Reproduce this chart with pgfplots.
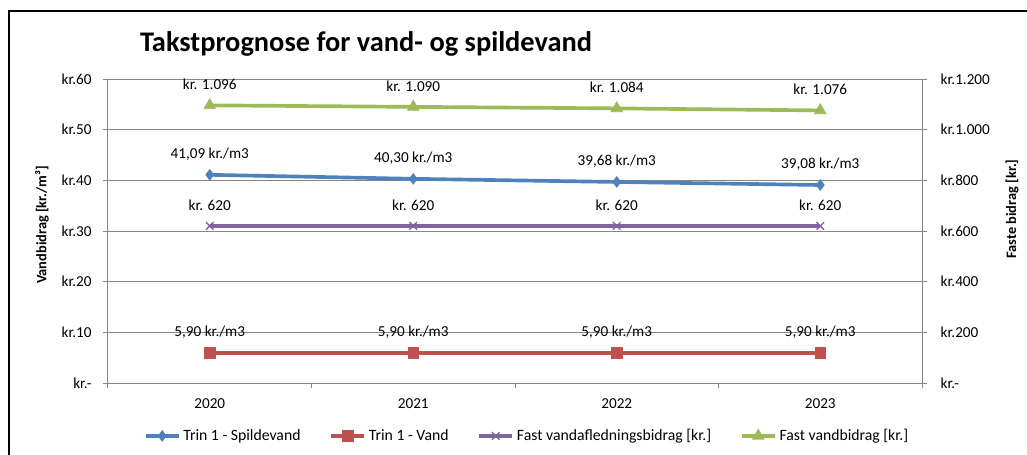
\documentclass[border=0pt]{standalone}
\usepackage{pgfplots}
\pgfplotsset{compat=1.18}
\usepackage{fontspec}
\setmainfont{Carlito}
\definecolor{cblue}{HTML}{4F81BD}
\definecolor{cred}{HTML}{C0504D}
\definecolor{cpurple}{HTML}{8064A2}
\definecolor{cgreen}{HTML}{9BBB59}
\definecolor{cgrid}{HTML}{868686}
\pgfplotsset{
  common/.style={
    at={(0pt,0pt)}, anchor=south west, scale only axis,
    width=610.5pt, height=228pt,
    xmin=-0.5, xmax=3.5,
    tick align=outside,
    major tick length=3.75pt, minor tick length=3.75pt,
    tick style={cgrid, line width=0.75pt},
    axis line style={cgrid, line width=0.75pt},
    tick label style={font=\fontsize{11.4}{13}\selectfont, text=black},
  },
  lbl/.style={nodes near coords, point meta=explicit symbolic,
    every node near coord/.style={anchor=center, yshift=15.5pt,
      font=\fontsize{11.4}{13}\selectfont, text=black}},
}
\begin{document}
\begin{tikzpicture}
\useasboundingbox (-81pt,-53.25pt) rectangle (689.25pt,287.25pt);
\draw[line width=1.5pt] (-74.25pt,-60pt) -- (-74.25pt,279pt) -- (700pt,279pt);
\node[anchor=west, font=\fontsize{21.3}{25}\selectfont\bfseries] at (20.5pt,254pt) {Takstprognose for vand- og spildevand};
\node[rotate=90, font=\fontsize{10.8}{12}\selectfont\bfseries] at (-49.5pt,118.5pt) {Vandbidrag [kr./m³]};
\node[rotate=90, font=\fontsize{10.8}{12}\selectfont\bfseries] at (678pt,130.5pt) {Faste bidrag [kr.]};
\begin{axis}[common,
  ymin=0, ymax=60,
  xtick={0,1,2,3}, xticklabels={2020,2021,2022,2023},
  major x tick style={draw=none},
  minor xtick={-0.5,0.5,1.5,2.5,3.5},
  ytick={0,10,20,30,40,50,60},
  yticklabels={kr.-,kr.10,kr.20,kr.30,kr.40,kr.50,kr.60},
  yticklabel style={xshift=-5pt},
  xticklabel style={yshift=-4.5pt},
  tick pos=left,
  ymajorgrids, grid style={cgrid, line width=0.75pt},
]
\addplot[cblue, line width=2.75pt, mark=diamond*, mark size=4pt, mark options={line width=0.5pt}, lbl]
  coordinates {(0,41.09) [41,09 kr./m3] (1,40.30) [40,30 kr./m3] (2,39.68) [39,68 kr./m3] (3,39.08) [39,08 kr./m3]};
\addplot[cred, line width=2.75pt, mark=square*, mark size=4pt, mark options={line width=0.5pt}, lbl]
  coordinates {(0,5.90) [5,90 kr./m3] (1,5.90) [5,90 kr./m3] (2,5.90) [5,90 kr./m3] (3,5.90) [5,90 kr./m3]};
\end{axis}
\begin{axis}[common,
  ymin=0, ymax=1200,
  axis x line=none, axis y line*=right,
  ytick={0,200,400,600,800,1000,1200},
  yticklabels={kr.-,kr.200,kr.400,kr.600,kr.800,kr.1.000,kr.1.200},
  yticklabel style={xshift=6.75pt},
  legend columns=4,
  legend style={draw=none, fill=none, at={(0.515,-0.174)}, anchor=center,
    font=\fontsize{11.8}{13}\selectfont,
    /tikz/every even column/.append style={column sep=19.5pt}},
  legend cell align=left,
  legend image code/.code={\draw[mark repeat=2,mark phase=2] plot coordinates {(0cm,0cm) (0.44cm,0cm) (0.88cm,0cm)};},
]
\addlegendimage{cblue, line width=2.75pt, mark=diamond*, mark size=4pt, mark options={line width=0.5pt}}
\addlegendentry{Trin 1 - Spildevand}
\addlegendimage{cred, line width=2.75pt, mark=square*, mark size=4pt, mark options={line width=0.5pt}}
\addlegendentry{Trin 1 - Vand}
\addplot[cpurple, line width=2.75pt, mark=x, mark size=4pt, mark options={line width=1pt}, lbl]
  coordinates {(0,620) [kr. 620] (1,620) [kr. 620] (2,620) [kr. 620] (3,620) [kr. 620]};
\addlegendentry{Fast vandafledningsbidrag [kr.]}
\addplot[cgreen, line width=2.75pt, mark=triangle*, mark size=5pt, mark options={line width=0.5pt}, lbl]
  coordinates {(0,1096) [kr. 1.096] (1,1090) [kr. 1.090] (2,1084) [kr. 1.084] (3,1076) [kr. 1.076]};
\addlegendentry{Fast vandbidrag [kr.]}
\end{axis}
\end{tikzpicture}
\end{document}
